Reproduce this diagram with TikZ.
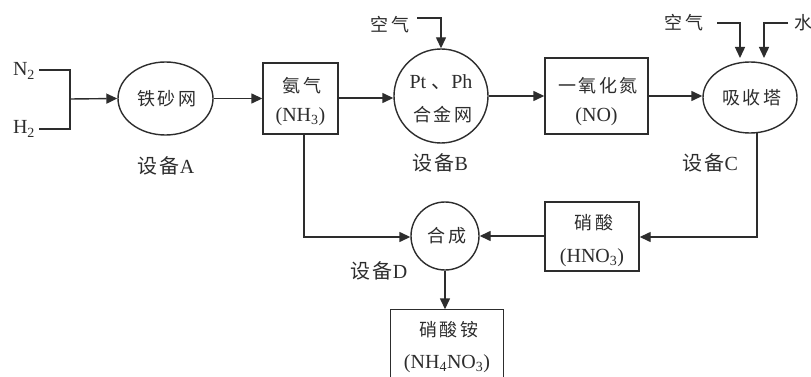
\documentclass[tikz,border=0pt]{standalone}
\usepackage{fontspec}
\setmainfont{Liberation Serif}
\newfontfamily\cjk[LetterSpace=12]{Noto Sans CJK SC}
\usetikzlibrary{shapes.geometric,arrows.meta}
\definecolor{ink}{RGB}{45,45,45}
\begin{document}
\begin{tikzpicture}[x=1pt,y=-1pt,line width=1.4pt,draw=ink,text=ink,
  arr/.style={-{Triangle[length=11pt,width=10pt]}},
  box/.style={draw,rectangle,inner sep=0pt},
  ell/.style={draw,ellipse,inner sep=0pt},
  circ/.style={draw,circle,inner sep=0pt},
  lt/.style={inner sep=0pt,font=\fontsize{20}{22}\selectfont},
  ct/.style={inner sep=0pt,font=\fontsize{18}{20}\selectfont\cjk}]
\useasboundingbox (0,0) rectangle (811,377);
\fill[white] (0,0) rectangle (811,377);
% inputs
\node[lt] (n2) at (24,71) {N\textsubscript{2}};
\node[lt] (h2) at (24,129) {H\textsubscript{2}};
\coordinate (jn) at (70,70);
\coordinate (jh) at (70,129);
\coordinate (jm) at (70,99);
\coordinate (n2e) at (39,70);
\coordinate (h2e) at (39,129);
% equipment A
\node[ell,minimum width=95pt,minimum height=73pt] (A) at (165.5,98.5) {};
\node[ct] (At) at (167,98.5) {铁砂网};
\node[lt] (Al) at (166,166) {{\cjk 设备}A};
% ammonia box
\node[box,minimum width=75pt,minimum height=71pt] (nh3) at (300.5,98.5) {};
\node[ct] (nh3a) at (302,86) {氨气};
\node[lt] (nh3b) at (300.5,117) {(NH\textsubscript{3})};
% equipment B
\node[circ,minimum size=94pt] (B) at (441,96) {};
\node[lt] (Bt1) at (441,82) {Pt {\cjk 、}Ph};
\node[ct] (Bt2) at (443,115) {合金网};
\node[lt] (Bl) at (440,163) {{\cjk 设备}B};
\node[ct] (airB) at (390,25) {空气};
\coordinate (airB1) at (417,18);
\coordinate (airB2) at (441,18);
% NO box
\node[box,minimum width=103pt,minimum height=76pt] (NO) at (596.5,96) {};
\node[ct] (NOa) at (598,86) {一氧化氮};
\node[lt] (NOb) at (596.5,117) {(NO)};
% equipment C
\node[ell,minimum width=94pt,minimum height=71pt] (C) at (750,97.5) {};
\node[ct] (Ct) at (752,97.5) {吸收塔};
\node[lt] (Cl) at (710,163) {{\cjk 设备}C};
\node[ct] (airC) at (684,23) {空气};
\node[ct] (water) at (803,23) {水};
\coordinate (airC1) at (717,23);
\coordinate (airC2) at (740,23);
\coordinate (airC3) at (740,58);
\coordinate (wat1) at (788,23);
\coordinate (wat2) at (764,23);
\coordinate (wat3) at (764,58);
% HNO3 box
\node[box,minimum width=94pt,minimum height=69pt] (hno3) at (592,236.5) {};
\node[ct] (hno3a) at (594,223) {硝酸};
\node[lt] (hno3b) at (592,258) {(HNO\textsubscript{3})};
\coordinate (rt) at (757,133);
\coordinate (rc) at (757,237);
% equipment D
\node[circ,minimum size=68pt] (D) at (445,236) {};
\node[ct] (Dt) at (447,236) {合成};
\node[lt] (Dl) at (379,271) {{\cjk 设备}D};
\coordinate (lc) at (304,237);
% ammonium nitrate box (cut at bottom)
\node[minimum width=112pt,minimum height=72pt,inner sep=0pt] (an) at (447,346) {};
\node[ct] (ana) at (449,330) {硝酸铵};
\node[lt] (anb) at (447,364) {(NH\textsubscript{4}NO\textsubscript{3})};
% connectors
\draw (n2e) -- (jn) -- (jh) -- (h2e);
\draw[arr] (jm) -- (A.west);
\draw[arr] (A.east) -- (nh3.west |- A.east);
\draw[arr] (nh3.east |- 0,98) -- (B.west |- 0,98);
\draw[arr] (airB1) -- (airB2) -- (B.north);
\draw[arr] (B.east |- 0,96) -- (NO.west |- 0,96);
\draw[arr] (NO.east |- 0,96) -- (C.west |- 0,96);
\draw[arr] (airC1) -- (airC2) -- (airC3);
\draw[arr] (wat1) -- (wat2) -- (wat3);
\draw[arr] (rt) -- (rc) -- (hno3.east |- rc);
\draw[arr] (hno3.west |- D.east) -- (D.east);
\draw[arr] (nh3.south -| lc) -- (lc) -- (D.west |- lc);
\draw[arr] (D.south) -- (D.south |- an.north);
\draw (an.south west) -- (an.north west) -- (an.north east) -- (an.south east);
\end{tikzpicture}
\end{document}
